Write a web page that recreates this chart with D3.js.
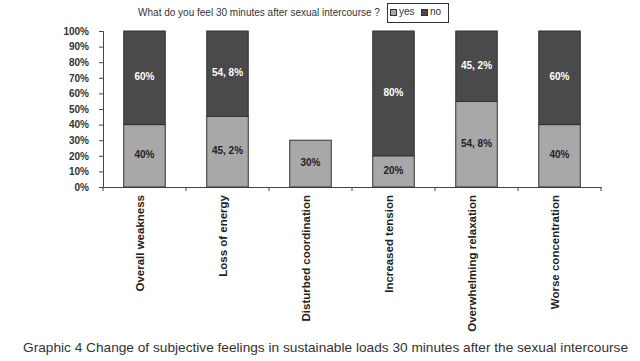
<!DOCTYPE html>
<html>
<head>
<meta charset="utf-8">
<script src="https://cdn.jsdelivr.net/npm/d3@7"></script>
<style>
	body { margin: 0; background: #fff; }
	svg { display: block; }
</style>
</head>
<body>
<svg id="chart" width="640" height="361"></svg>
<script>
const categories = ["Overall weakness", "Loss of energy", "Disturbed coordination", "Increased tension", "Overwhelming relaxation", "Worse concentration"];
const yesValues = [40, 45.2, 30, 20, 54.8, 40];
const noValues = [60, 54.8, 0, 80, 45.2, 60];
const yesLabels = ["40%", "45, 2%", "30%", "20%", "54, 8%", "40%"];
const noLabels = ["60%", "54, 8%", "", "80%", "45, 2%", "60%"];
const yTicks = [0, 10, 20, 30, 40, 50, 60, 70, 80, 90, 100];

const svg = d3.select("svg#chart");
const yesColor = "#a8a8a8";
const noColor = "#4a4a4a";

const x = d3.scaleBand().domain(categories).range([103, 601]).paddingInner(0.5).paddingOuter(0.25);
const y = d3.scaleLinear().domain([0, 100]).range([187, 31]);

// title
svg.append("text")
	.attr("x", 259)
	.attr("y", 16)
	.attr("text-anchor", "middle")
	.style("font", "10px 'Liberation Sans', Arial")
	.style("fill", "#333")
	.text("What do you feel 30 minutes after sexual intercourse ?");

// legend
const legend = svg.append("g");
legend.append("rect")
	.attr("x", 387.5).attr("y", 3.5).attr("width", 61).attr("height", 19)
	.attr("fill", "none").attr("stroke", "#333");
[["yes", yesColor, 390], ["no", noColor, 421]].forEach(function (d) {
	legend.append("rect")
		.attr("x", d[2] + 0.5).attr("y", 9.5).attr("width", 6).attr("height", 6)
		.attr("fill", d[1]).attr("stroke", "#333");
	legend.append("text")
		.attr("x", d[2] + 9).attr("y", 15)
		.style("font", "10px 'Liberation Sans', Arial")
		.style("fill", "#333")
		.text(d[0]);
});

// y axis
const yAxis = svg.append("g")
	.attr("transform", "translate(103,0)")
	.call(d3.axisLeft(y).tickValues(yTicks).tickSize(4).tickFormat(d => d + "%"));
yAxis.select(".domain").attr("stroke", "#444");
yAxis.selectAll(".tick line").attr("stroke", "#444");
yAxis.selectAll("text")
	.attr("x", -14)
	.style("font", "bold 10px 'Liberation Sans', Arial")
	.style("fill", "#333");

// x axis
const xAxis = svg.append("g")
	.attr("transform", "translate(0,187)")
	.call(d3.axisBottom(x).tickSize(0).tickFormat(""));
xAxis.select(".domain").attr("stroke", "#444");
xAxis.selectAll(".tick").remove();
const step = x.step();
const bounds = d3.range(categories.length + 1).map(i => 103 + i * step);
xAxis.selectAll("line.sep")
	.data(bounds)
	.join("line")
	.attr("class", "sep")
	.attr("x1", d => d).attr("x2", d => d)
	.attr("y1", 0).attr("y2", 4)
	.attr("stroke", "#444");

// bars
const bars = svg.append("g");
categories.forEach(function (c, i) {
	bars.append("rect")
		.attr("x", x(c))
		.attr("y", y(yesValues[i]))
		.attr("width", x.bandwidth())
		.attr("height", y(0) - y(yesValues[i]))
		.attr("fill", yesColor)
		.attr("stroke", "#333")
		.attr("stroke-width", 1);
	if (noValues[i] > 0) {
		bars.append("rect")
			.attr("x", x(c))
			.attr("y", y(yesValues[i] + noValues[i]))
			.attr("width", x.bandwidth())
			.attr("height", y(yesValues[i]) - y(yesValues[i] + noValues[i]))
			.attr("fill", noColor)
			.attr("stroke", "#333")
			.attr("stroke-width", 1);
	}
	bars.append("text")
		.attr("x", x(c) + x.bandwidth() / 2)
		.attr("y", y(yesValues[i] / 2))
		.attr("text-anchor", "middle")
		.attr("dominant-baseline", "middle")
		.style("font", "bold 10px 'Liberation Sans', Arial")
		.style("fill", "#222")
		.text(yesLabels[i]);
	if (noLabels[i]) {
		bars.append("text")
			.attr("x", x(c) + x.bandwidth() / 2)
			.attr("y", y(yesValues[i] + noValues[i] / 2))
			.attr("text-anchor", "middle")
			.attr("dominant-baseline", "middle")
			.style("font", "bold 10px 'Liberation Sans', Arial")
			.style("fill", "#fff")
			.text(noLabels[i]);
	}
});

// category labels
svg.append("g").selectAll("text")
	.data(categories)
	.join("text")
	.attr("transform", d => `translate(${x(d) + x.bandwidth() / 2 - 4},195) rotate(-90)`)
	.attr("text-anchor", "end")
	.attr("dominant-baseline", "middle")
	.style("font", "bold 11.5px 'Liberation Sans', Arial")
	.style("fill", "#222")
	.text(d => d);

// caption
svg.append("text")
	.attr("x", 23)
	.attr("y", 352)
	.attr("textLength", 605)
	.attr("lengthAdjust", "spacingAndGlyphs")
	.style("font", "13px 'Liberation Sans', Arial")
	.style("fill", "#333")
	.text("Graphic 4 Change of subjective feelings in sustainable loads 30 minutes after the sexual intercourse");
</script>
</body>
</html>
